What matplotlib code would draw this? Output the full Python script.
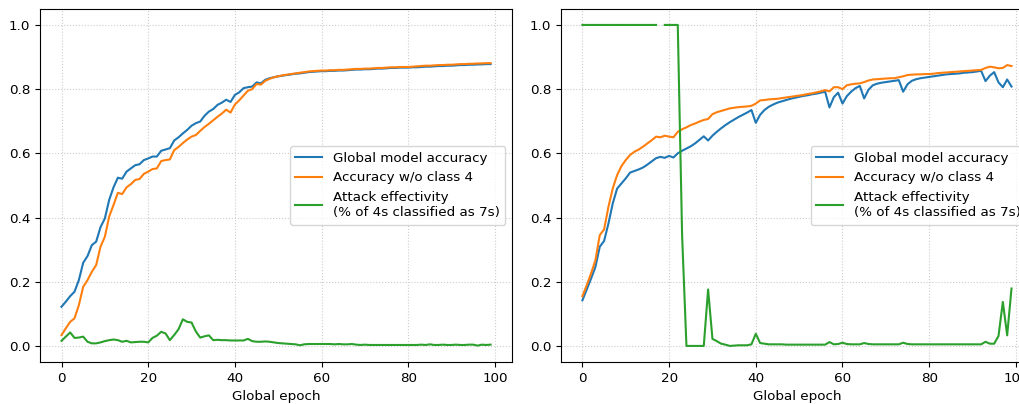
import numpy as np
import matplotlib
matplotlib.use("Agg")
import matplotlib.pyplot as plt

plt.rcParams['font.family'] = ['DejaVu Sans']
plt.rcParams['font.size'] = 9.7

epochs = list(range(100))

# panel izquierdo: ataque sin efecto duradero
acc_global_a = [
    0.122, 0.138, 0.155, 0.169, 0.205, 0.259, 0.280, 0.314, 0.325, 0.370,
    0.397, 0.455, 0.494, 0.524, 0.521, 0.543, 0.553, 0.563, 0.566, 0.579,
    0.584, 0.590, 0.590, 0.608, 0.612, 0.616, 0.640, 0.650, 0.662, 0.673,
    0.686, 0.694, 0.699, 0.717, 0.730, 0.738, 0.751, 0.758, 0.767, 0.760,
    0.782, 0.790, 0.803, 0.806, 0.808, 0.821, 0.818, 0.829, 0.834, 0.837,
    0.840, 0.842, 0.844, 0.846, 0.848, 0.849, 0.851, 0.853, 0.854, 0.855,
    0.856, 0.856, 0.857, 0.857, 0.858, 0.858, 0.859, 0.860, 0.861, 0.861,
    0.862, 0.862, 0.863, 0.864, 0.864, 0.865, 0.866, 0.866, 0.867, 0.867,
    0.867, 0.868, 0.868, 0.869, 0.870, 0.870, 0.871, 0.872, 0.872, 0.873,
    0.873, 0.874, 0.875, 0.875, 0.876, 0.876, 0.877, 0.877, 0.878, 0.878,
]
acc_no4_a = [
    0.034, 0.055, 0.075, 0.086, 0.127, 0.184, 0.205, 0.231, 0.252, 0.309,
    0.340, 0.403, 0.439, 0.477, 0.473, 0.494, 0.504, 0.517, 0.520, 0.536,
    0.543, 0.551, 0.553, 0.576, 0.579, 0.581, 0.610, 0.620, 0.632, 0.643,
    0.652, 0.657, 0.670, 0.682, 0.692, 0.703, 0.714, 0.724, 0.736, 0.727,
    0.752, 0.765, 0.780, 0.795, 0.800, 0.816, 0.814, 0.826, 0.832, 0.837,
    0.840, 0.843, 0.845, 0.847, 0.849, 0.851, 0.853, 0.855, 0.856, 0.857,
    0.858, 0.858, 0.859, 0.859, 0.860, 0.860, 0.861, 0.862, 0.863, 0.863,
    0.864, 0.864, 0.865, 0.866, 0.866, 0.867, 0.868, 0.868, 0.869, 0.869,
    0.869, 0.870, 0.871, 0.872, 0.873, 0.873, 0.874, 0.875, 0.875, 0.876,
    0.876, 0.877, 0.878, 0.878, 0.879, 0.879, 0.880, 0.880, 0.881, 0.881,
]
attack_a = [
    0.016, 0.029, 0.042, 0.025, 0.026, 0.029, 0.013, 0.008, 0.008, 0.011,
    0.015, 0.018, 0.020, 0.018, 0.013, 0.016, 0.011, 0.012, 0.013, 0.013,
    0.011, 0.025, 0.032, 0.044, 0.039, 0.018, 0.034, 0.052, 0.083, 0.075,
    0.073, 0.045, 0.026, 0.030, 0.033, 0.018, 0.019, 0.018, 0.018, 0.017,
    0.017, 0.017, 0.017, 0.022, 0.015, 0.013, 0.013, 0.014, 0.013, 0.011,
    0.009, 0.008, 0.007, 0.006, 0.005, 0.002, 0.005, 0.006, 0.006, 0.006,
    0.006, 0.006, 0.006, 0.005, 0.006, 0.005, 0.005, 0.006, 0.004, 0.003,
    0.004, 0.003, 0.003, 0.003, 0.003, 0.003, 0.003, 0.003, 0.003, 0.003,
    0.003, 0.003, 0.003, 0.004, 0.003, 0.005, 0.003, 0.003, 0.004, 0.003,
    0.003, 0.004, 0.003, 0.003, 0.004, 0.004, 0.001, 0.004, 0.003, 0.004,
]

# panel derecho: ataque efectivo al inicio y al final
acc_global_b = [
    0.142, 0.176, 0.210, 0.246, 0.309, 0.327, 0.381, 0.444, 0.490, 0.506,
    0.522, 0.540, 0.545, 0.550, 0.556, 0.565, 0.575, 0.585, 0.589, 0.586,
    0.592, 0.587, 0.600, 0.608, 0.615, 0.622, 0.631, 0.642, 0.653, 0.640,
    0.655, 0.667, 0.678, 0.688, 0.697, 0.705, 0.713, 0.720, 0.727, 0.735,
    0.695, 0.720, 0.735, 0.745, 0.752, 0.758, 0.762, 0.766, 0.770, 0.773,
    0.776, 0.779, 0.781, 0.784, 0.786, 0.789, 0.792, 0.743, 0.775, 0.789,
    0.755, 0.778, 0.792, 0.803, 0.810, 0.771, 0.798, 0.812, 0.817, 0.820,
    0.822, 0.824, 0.826, 0.828, 0.792, 0.815, 0.826, 0.831, 0.834, 0.836,
    0.838, 0.840, 0.842, 0.844, 0.846, 0.847, 0.848, 0.849, 0.851, 0.852,
    0.853, 0.855, 0.857, 0.825, 0.842, 0.853, 0.821, 0.806, 0.830, 0.808,
]
acc_no4_b = [
    0.155, 0.189, 0.226, 0.267, 0.345, 0.363, 0.433, 0.491, 0.532, 0.560,
    0.579, 0.595, 0.605, 0.612, 0.621, 0.631, 0.641, 0.652, 0.650, 0.655,
    0.652, 0.650, 0.667, 0.675, 0.681, 0.688, 0.693, 0.699, 0.704, 0.707,
    0.722, 0.728, 0.732, 0.736, 0.740, 0.742, 0.744, 0.745, 0.746, 0.748,
    0.755, 0.765, 0.766, 0.768, 0.769, 0.770, 0.772, 0.774, 0.776, 0.778,
    0.780, 0.782, 0.785, 0.787, 0.790, 0.793, 0.797, 0.793, 0.806, 0.806,
    0.800, 0.812, 0.815, 0.817, 0.818, 0.822, 0.827, 0.830, 0.831, 0.832,
    0.833, 0.834, 0.834, 0.837, 0.840, 0.844, 0.845, 0.846, 0.846, 0.847,
    0.847, 0.848, 0.850, 0.851, 0.852, 0.853, 0.854, 0.855, 0.856, 0.857,
    0.858, 0.859, 0.860, 0.866, 0.870, 0.868, 0.865, 0.866, 0.875, 0.872,
]
attack_b = [
    1.0, 1.0, 1.0, 1.0, 1.0, 1.0, 1.0, 1.0, 1.0, 1.0,
    1.0, 1.0, 1.0, 1.0, 1.0, 1.0, 1.0, 1.0, np.nan, 1.0,
    1.0, 1.0, 1.0, 0.345, 0.0, 0.0, 0.0, 0.0, 0.0, 0.176,
    0.022, 0.015, 0.007, 0.004, 0.0, 0.001, 0.002, 0.002, 0.002, 0.005,
    0.038, 0.009, 0.007, 0.005, 0.005, 0.005, 0.005, 0.004, 0.004, 0.004,
    0.004, 0.004, 0.004, 0.004, 0.004, 0.004, 0.004, 0.012, 0.005, 0.006,
    0.010, 0.006, 0.005, 0.005, 0.005, 0.009, 0.006, 0.005, 0.005, 0.005,
    0.005, 0.005, 0.005, 0.005, 0.010, 0.006, 0.005, 0.005, 0.005, 0.005,
    0.005, 0.005, 0.005, 0.005, 0.005, 0.005, 0.005, 0.005, 0.005, 0.005,
    0.005, 0.005, 0.005, 0.013, 0.007, 0.007, 0.031, 0.137, 0.033, 0.179,
]

etiquetas = ["Global model accuracy", "Accuracy w/o class 4",
             "Attack effectivity\n(% of 4s classified as 7s)"]

fig = plt.figure(figsize=(10.19, 4.04), dpi=100)
# el panel derecho sale del borde, como en la captura original
ax1 = fig.add_axes([0.0393, 0.104, 0.4632, 0.874])
ax2 = fig.add_axes([0.5505, 0.104, 0.4632, 0.874])

for ax, series in [(ax1, (acc_global_a, acc_no4_a, attack_a)),
                   (ax2, (acc_global_b, acc_no4_b, attack_b))]:
    for s, lab in zip(series, etiquetas):
        ax.plot(epochs, s, label=lab, linewidth=1.5)
    ax.set_ylim(-0.05, 1.05)
    ax.set_xticks([0, 20, 40, 60, 80, 100])
    ax.set_yticks([0.0, 0.2, 0.4, 0.6, 0.8, 1.0])
    ax.set_xlabel("Global epoch")
    ax.grid(True, linestyle=':', color='#cccccc', linewidth=0.8)
    ax.legend(loc="center right")

fig.savefig("out.png", dpi=100)
